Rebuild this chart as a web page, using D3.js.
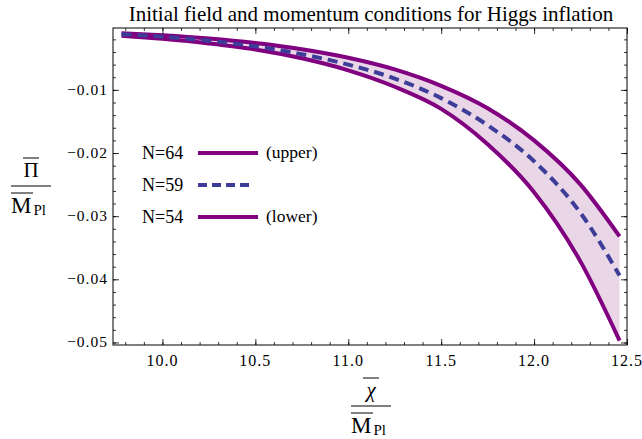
<!DOCTYPE html>
<html>
<head>
<meta charset="utf-8">
<script src="https://cdn.jsdelivr.net/npm/d3@7/dist/d3.min.js"></script>
<style>
  body { margin: 0; background: #fff; }
</style>
</head>
<body>
<svg id="chart" width="642" height="439"></svg>
<script>
// values (chi/M_Pl on x, Pi/M_Pl on y)
var chiValues = [9.78, 10.0, 10.25, 10.5, 10.75, 11.0, 11.25, 11.5, 11.75, 12.0, 12.25, 12.46];
var piUpper  = [-0.00102, -0.00135, -0.00186, -0.00258, -0.00355, -0.00490, -0.00675, -0.00935, -0.0129, -0.0180, -0.0250, -0.0332];
var piMiddle = [-0.00118, -0.00158, -0.00222, -0.00310, -0.00435, -0.00600, -0.00820, -0.0113, -0.0156, -0.0213, -0.0295, -0.0394];
var piLower  = [-0.00141, -0.00192, -0.00265, -0.00360, -0.00500, -0.00690, -0.00950, -0.0130, -0.0186, -0.0262, -0.0372, -0.0497];

var xTicks = [10.0, 10.5, 11.0, 11.5, 12.0, 12.5];
var yTicks = [-0.01, -0.02, -0.03, -0.04, -0.05];
var legendLabels = ['N=64', 'N=59', 'N=54'];
var legendNotes = ['(upper)', '', '(lower)'];

var titleText = 'Initial field and momentum conditions for Higgs inflation';

var purple = '#800080';
var blue = '#3d3d99';
var band = '#e9d6e6';
var serif = "'Liberation Serif', 'Times New Roman', serif";

var svg = d3.select('#chart');
var plot = { left: 113, right: 627, top: 28, bottom: 345 };

var x = d3.scaleLinear().domain([9.734, 12.5]).range([plot.left, plot.right]);
var y = d3.scaleLinear().domain([-0.0002, -0.0504]).range([plot.top, plot.bottom]);

var rows = chiValues.map(function (c, i) {
  return { chi: c, up: piUpper[i], mid: piMiddle[i], low: piLower[i] };
});

// shaded region between the two bounds
var area = d3.area()
  .x(function (d) { return x(d.chi); })
  .y0(function (d) { return y(d.low); })
  .y1(function (d) { return y(d.up); })
  .curve(d3.curveMonotoneX);

svg.append('path')
  .datum(rows)
  .attr('d', area)
  .attr('fill', band);

function lineFor(key) {
  return d3.line()
    .x(function (d) { return x(d.chi); })
    .y(function (d) { return y(d[key]); })
    .curve(d3.curveMonotoneX);
}

svg.append('path').datum(rows).attr('d', lineFor('up'))
  .attr('fill', 'none').attr('stroke', purple).attr('stroke-width', 4);
svg.append('path').datum(rows).attr('d', lineFor('low'))
  .attr('fill', 'none').attr('stroke', purple).attr('stroke-width', 4);
svg.append('path').datum(rows).attr('d', lineFor('mid'))
  .attr('fill', 'none').attr('stroke', blue).attr('stroke-width', 4)
  .attr('stroke-dasharray', '10,6');

// frame ticks, pointing inward
var xMinor = d3.range(98, 126).map(function (v) { return v / 10; });
var yMinor = d3.range(1, 26).map(function (v) { return -v * 0.002; });

function tickAxis(axisFn, scale, pos, vals, size) {
  var ax = axisFn(scale).tickValues(vals).tickSize(size).tickFormat('');
  var g = svg.append('g').attr('transform', pos).call(ax);
  g.select('.domain').remove();
  g.selectAll('line').attr('stroke', '#000').attr('stroke-width', 0.8);
  return g;
}

var fmtX = d3.format('.1f');
var fmtY = function (v) { return '\u2212' + d3.format('.2f')(Math.abs(v)); };

tickAxis(d3.axisBottom, x, 'translate(0,' + plot.bottom + ')', xTicks, -6);
tickAxis(d3.axisBottom, x, 'translate(0,' + plot.bottom + ')', xMinor, -3);
tickAxis(d3.axisTop, x, 'translate(0,' + plot.top + ')', xTicks, -6);
tickAxis(d3.axisTop, x, 'translate(0,' + plot.top + ')', xMinor, -3);
tickAxis(d3.axisLeft, y, 'translate(' + plot.left + ',0)', yTicks, -6);
tickAxis(d3.axisLeft, y, 'translate(' + plot.left + ',0)', yMinor, -3);
tickAxis(d3.axisRight, y, 'translate(' + plot.right + ',0)', yTicks, -6);
tickAxis(d3.axisRight, y, 'translate(' + plot.right + ',0)', yMinor, -3);

svg.selectAll('.xlab').data(xTicks).enter().append('text')
  .attr('class', 'xlab')
  .attr('x', function (d) { return x(d); })
  .attr('y', plot.bottom + 21)
  .attr('text-anchor', 'middle')
  .attr('fill', '#000')
  .style('font-family', serif)
  .style('font-size', '16px')
  .style('letter-spacing', '1px')
  .text(fmtX);

svg.selectAll('.ylab').data(yTicks).enter().append('text')
  .attr('class', 'ylab')
  .attr('x', plot.left - 5)
  .attr('y', function (d) { return y(d) + 5; })
  .attr('text-anchor', 'end')
  .attr('fill', '#000')
  .style('font-family', serif)
  .style('font-size', '15.5px')
  .style('letter-spacing', '1px')
  .text(fmtY);

svg.append('rect')
  .attr('x', plot.left).attr('y', plot.top)
  .attr('width', plot.right - plot.left).attr('height', plot.bottom - plot.top)
  .attr('fill', 'none').attr('stroke', '#000').attr('stroke-width', 1);

// title
svg.append('text')
  .attr('x', 371).attr('y', 20.5)
  .attr('text-anchor', 'middle')
  .style('font-family', serif)
  .style('font-size', '21px')
  .text(titleText);

// legend
var legendY = [153, 185, 217];
var lg = svg.selectAll('.legend').data(legendLabels).enter().append('g')
  .attr('class', 'legend')
  .style('font-family', serif)
  .attr('transform', function (d, i) { return 'translate(0,' + legendY[i] + ')'; });

lg.append('text')
  .attr('x', 142).attr('y', 6)
  .style('font-size', '18px')
  .text(function (d) { return d; });

lg.append('line')
  .attr('x1', 198)
  .attr('x2', function (d, i) { return i === 1 ? 251 : 258; })
  .attr('y1', 0).attr('y2', 0)
  .attr('stroke', function (d, i) { return i === 1 ? blue : purple; })
  .attr('stroke-width', 4)
  .attr('stroke-dasharray', function (d, i) { return i === 1 ? '9,5' : null; });

lg.append('text')
  .attr('x', 266).attr('y', 5)
  .style('font-size', '17.5px')
  .text(function (d, i) { return legendNotes[i]; });

// axis labels as fractions
function fraction(cx, top, num, numItalic) {
  var g = svg.append('g').style('font-family', serif);
  g.append('text')
    .attr('x', cx).attr('y', top + 19)
    .attr('text-anchor', 'middle')
    .style('font-size', '21px')
    .style('font-style', numItalic ? 'italic' : 'normal')
    .text(num);
  g.append('line')
    .attr('x1', cx - 8).attr('x2', cx + 8)
    .attr('y1', top).attr('y2', top)
    .attr('stroke', '#000').attr('stroke-width', 1);
  g.append('line')
    .attr('x1', cx - 20).attr('x2', cx + 20)
    .attr('y1', top + 28).attr('y2', top + 28)
    .attr('stroke', '#000').attr('stroke-width', 1.2);
  g.append('line')
    .attr('x1', cx - 20).attr('x2', cx + 2)
    .attr('y1', top + 35).attr('y2', top + 35)
    .attr('stroke', '#000').attr('stroke-width', 1);
  var m = g.append('text')
    .attr('x', cx - 20).attr('y', top + 55)
    .style('font-size', '23px');
  m.append('tspan').text('M');
  m.append('tspan').attr('dx', 2).attr('dy', 2).style('font-size', '15px').text('Pl');
}

fraction(31, 158, '\u03A0', false);
fraction(371, 378, '\u03C7', true);
</script>
</body>
</html>
